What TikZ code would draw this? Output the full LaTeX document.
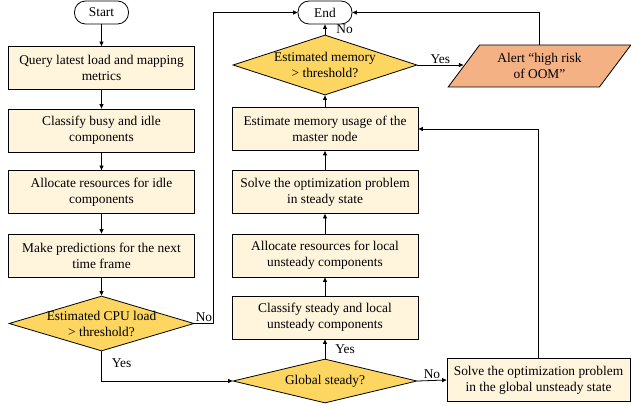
\documentclass[tikz,border=0pt]{standalone}
\usepackage{fontspec}
\setmainfont{Liberation Serif}
\usepackage{tikz}
\usetikzlibrary{arrows.meta,shapes.geometric}

\definecolor{boxfill}{HTML}{FFF4DC}
\definecolor{decfill}{HTML}{FCD660}
\definecolor{alertfill}{HTML}{F4B183}

\begin{document}
\begin{tikzpicture}[x=1pt,y=-1pt,
	arr/.style={draw, line width=0.8pt, -{Triangle[length=4.5pt,width=4pt]}},
	lbl/.style={inner sep=1pt}]
			\tikzstyle{every node}+=[font=\fontsize{13.4}{16}\selectfont, line width=0.8pt]
			\tikzstyle{proc}=[draw, fill=boxfill, minimum width=186pt, minimum height=43pt, inner sep=0pt, align=center]
			\tikzstyle{term}=[draw, rounded corners=11pt, minimum width=54pt, minimum height=23pt, inner sep=0pt]
			\tikzstyle{decision}=[draw, fill=decfill, diamond, inner sep=0pt]
			\tikzstyle{alertbox}=[draw, fill=alertfill, trapezium, trapezium left angle=49, trapezium right angle=131, trapezium stretches=true, minimum width=183pt, minimum height=42pt, inner sep=0pt, align=center]
			\useasboundingbox (0,0) rectangle (631,406);
			\node [term] (start) at (101.5,12.5) {Start};
			\node [proc] (query) at (101.5,68) {Query latest load and mapping\\metrics};
			\node [proc] (busy) at (101.5,130.5) {Classify busy and idle\\components};
			\node [proc] (idle) at (101.5,192) {Allocate resources for idle\\components};
			\node [proc] (predict) at (101.5,255.5) {Make predictions for the next\\time frame};
			\node [decision, minimum width=185pt, minimum height=55pt, label={[align=center]center:Estimated CPU load\\> threshold?}] (cpu) at (101.5,323.5) {};
			\node [decision, minimum width=184pt, minimum height=44pt, label={center:Global steady?}] (steady) at (325,381) {};
			\node [proc] (local) at (325,317.5) {Classify steady and local\\unsteady components};
			\node [proc] (alloclocal) at (325,255.5) {Allocate resources for local\\unsteady components};
			\node [proc] (solvesteady) at (325,192) {Solve the optimization problem\\in steady state};
			\node [proc] (memory) at (325,129) {Estimate memory usage of the\\master node};
			\node [decision, minimum width=184pt, minimum height=60pt, label={[align=center]center:Estimated memory\\> threshold?}] (mem) at (325,65) {};
			\node [term] (end) at (325,12.5) {End};
			\node [alertbox] (alert) at (539.5,66) {Alert ``high risk\\of OOM''};
			\node [proc, minimum width=183pt] (unsteady) at (538.5,380) {Solve the optimization problem\\in the global unsteady state};
			\coordinate (rail) at (213,0);
			\draw [arr] (start) -- (query);
			\draw [arr] (query) -- (busy);
			\draw [arr] (busy) -- (idle);
			\draw [arr] (idle) -- (predict);
			\draw [arr] (predict) -- (cpu);
			\draw [arr] (cpu.east) node [lbl, above right] {No} -| (rail |- end.west) -- (end.west);
			\draw [arr] (cpu.south) |- (steady.west) node [lbl, pos=0.2, right=9pt] {Yes};
			\draw [arr] (steady.north) -- (local.south) node [lbl, midway, right=9pt] {Yes};
			\draw [arr] (local) -- (alloclocal);
			\draw [arr] (alloclocal) -- (solvesteady);
			\draw [arr] (solvesteady) -- (memory);
			\draw [arr] (memory) -- (mem.south);
			\draw [arr] (mem.north) -- (end.south) node [lbl, midway, right=10pt] {No};
			\draw [arr] (mem.east) -- (alert.west |- mem.east) node [lbl, midway, above] {Yes};
			\draw [arr] (alert.north) |- (end.east);
			\draw [arr] (steady.east) -- (unsteady.west) node [lbl, midway, above] {No};
			\draw [arr] (unsteady.north) |- (memory.east);
\end{tikzpicture}
\end{document}
